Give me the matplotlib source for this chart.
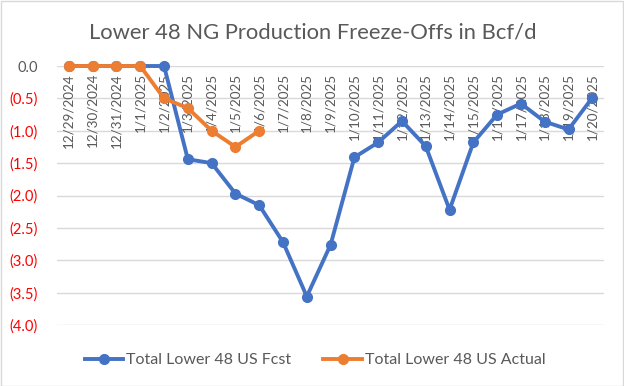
import matplotlib.pyplot as plt
import numpy as np

dates = ['12/29/2024', '12/30/2024', '12/31/2024', '1/1/2025', '1/2/2025', '1/3/2025',
         '1/4/2025', '1/5/2025', '1/6/2025', '1/7/2025', '1/8/2025', '1/9/2025',
         '1/10/2025', '1/11/2025', '1/12/2025', '1/13/2025', '1/14/2025', '1/15/2025',
         '1/16/2025', '1/17/2025', '1/18/2025', '1/19/2025', '1/20/2025']
fcst = [0, 0, 0, 0, 0, -1.44, -1.50, -1.97, -2.15, -2.72, -3.56, -2.76,
        -1.41, -1.18, -0.85, -1.24, -2.22, -1.18, -0.75, -0.58, -0.86, -0.98, -0.49]
actual = [0, 0, 0, 0, -0.50, -0.65, -1.00, -1.25, -1.00]
yticks = [0.0, -0.5, -1.0, -1.5, -2.0, -2.5, -3.0, -3.5, -4.0]

plt.rcParams['font.family'] = ['Lato', 'DejaVu Sans']
grey = '#595959'
blue = '#4472C4'
orange = '#ED7D31'

fig = plt.figure(figsize=(6.24, 3.86), dpi=100)
fig.patches.append(plt.Rectangle((0.001, 0.001), 0.997, 0.997, transform=fig.transFigure,
                                 fill=False, edgecolor='#D9D9D9', linewidth=1))
ax = fig.add_axes([0.0913, 0.158, 0.877, 0.671])

x = np.arange(len(dates))
ax.plot(x, fcst, color=blue, lw=2.8, marker='o', ms=7, clip_on=False, zorder=3,
        label='Total Lower 48 US Fcst')
ax.plot(x[:len(actual)], actual, color=orange, lw=2.8, marker='o', ms=7, clip_on=False,
        zorder=4, label='Total Lower 48 US Actual')

ax.set_xlim(-0.5, len(dates) - 0.5)
ax.set_ylim(-4, 0)
ax.set_yticks(yticks)
ax.set_yticklabels(['0.0' if v == 0 else '(%.1f)' % -v for v in yticks], fontsize=10.5)
for lab, v in zip(ax.get_yticklabels(), yticks):
    lab.set_color(grey if v == 0 else 'red')
ax.tick_params(axis='y', length=0, pad=14)
ax.set_xticks([])
ax.grid(axis='y', color='#D9D9D9', lw=1)
ax.set_axisbelow(True)
for s in ax.spines.values():
    s.set_visible(False)

for i, d in enumerate(dates):
    ax.annotate(d, (i, 0), xytext=(0, -5), textcoords='offset points', rotation=90,
                ha='center', va='top', fontsize=9.7, color=grey, zorder=2)

fig.text(0.502, 0.917, 'Lower 48 NG Production Freeze-Offs in Bcf/d', ha='center', va='center',
         fontsize=15.8, color=grey)
fig.legend(loc='center', bbox_to_anchor=(0.505, 0.067), ncol=2, frameon=False, fontsize=11.5,
           labelcolor=grey, handlelength=2.4, columnspacing=2.0, handletextpad=0.2)

fig.savefig('out.png', dpi=100)
